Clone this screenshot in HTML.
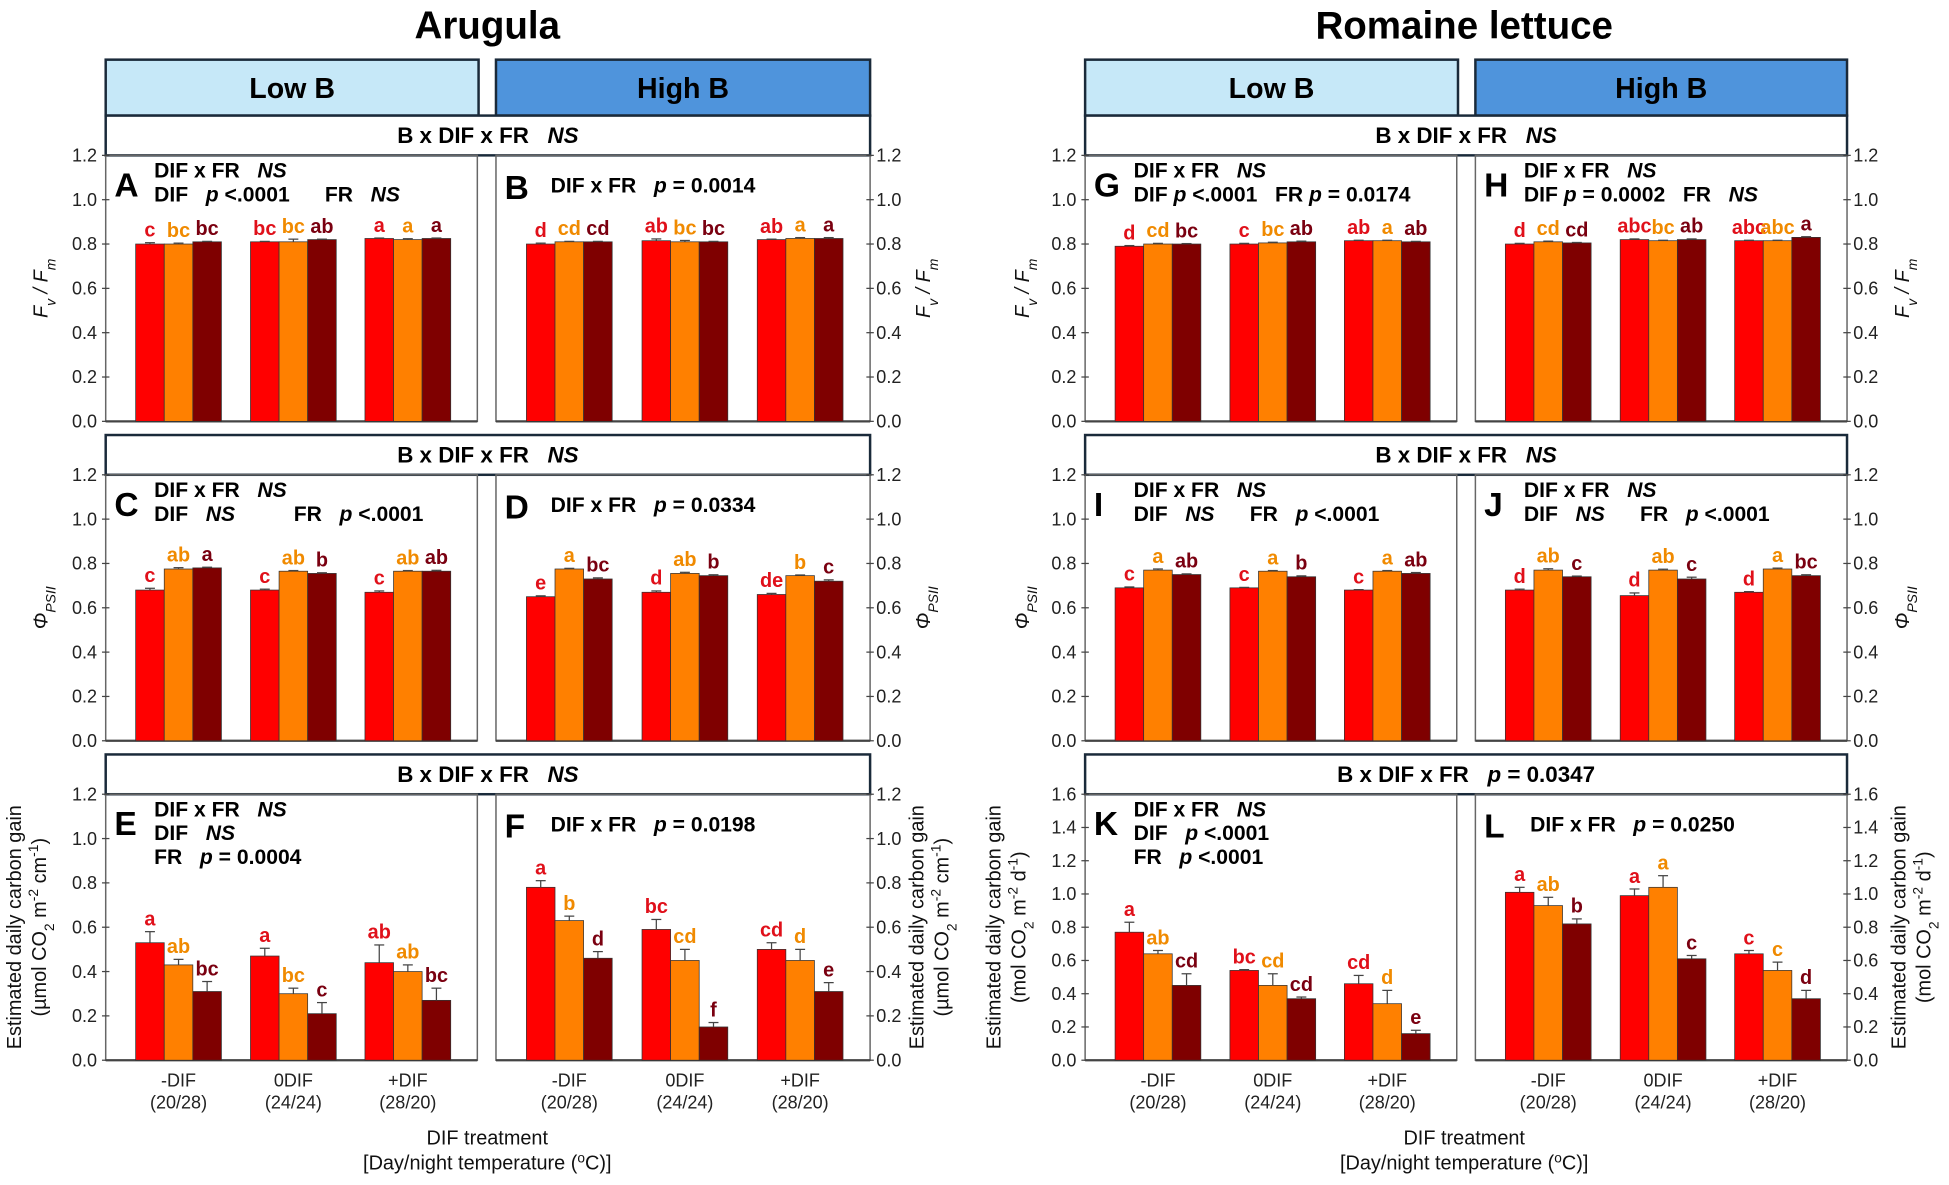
<!DOCTYPE html>
<html><head><meta charset="utf-8"><title>Arugula and romaine lettuce: Fv/Fm, ΦPSII and daily carbon gain</title>
<style>
html,body{margin:0;padding:0;background:#fff;}
svg{display:block;}
text{font-family:"Liberation Sans Narrow","Liberation Sans",sans-serif;white-space:pre;}
</style></head>
<body>
<svg id="fig" xmlns="http://www.w3.org/2000/svg" xml:space="preserve" width="1949" height="1185" viewBox="0 0 1568 953.4"></svg>
<script>
// ---- data (groups: -DIF, 0DIF, +DIF ; bars: red, orange, dark red) ----
const categories = ["-DIF", "0DIF", "+DIF"];
const categorySub = ["(20/28)", "(24/24)", "(28/20)"];
const ticks12 = ["0.0","0.2","0.4","0.6","0.8","1.0","1.2"];
const ticks16 = ["0.0","0.2","0.4","0.6","0.8","1.0","1.2","1.4","1.6"];

const valsA = [[0.80,0.80,0.81],[0.81,0.81,0.82],[0.825,0.82,0.825]];
const errA  = [[0.006,0.004,0.002],[0.002,0.012,0.002],[0.002,0.004,0.002]];
const letA  = [["c","bc","bc"],["bc","bc","ab"],["a","a","a"]];
const valsB = [[0.80,0.81,0.81],[0.815,0.81,0.81],[0.82,0.825,0.825]];
const errB  = [[0.004,0.002,0.002],[0.008,0.006,0.002],[0.002,0.004,0.004]];
const letB  = [["d","cd","cd"],["ab","bc","bc"],["ab","a","a"]];
const valsC = [[0.68,0.775,0.78],[0.68,0.765,0.755],[0.67,0.765,0.765]];
const errC  = [[0.008,0.006,0.003],[0.004,0.003,0.003],[0.006,0.003,0.004]];
const letC  = [["c","ab","a"],["c","ab","b"],["c","ab","ab"]];
const valsD = [[0.65,0.775,0.73],[0.67,0.755,0.745],[0.66,0.745,0.72]];
const errD  = [[0.004,0.003,0.005],[0.006,0.005,0.004],[0.005,0.003,0.006]];
const letD  = [["e","a","bc"],["d","ab","b"],["de","b","c"]];
const valsE = [[0.53,0.43,0.31],[0.47,0.30,0.21],[0.44,0.40,0.27]];
const errE  = [[0.05,0.025,0.045],[0.035,0.025,0.05],[0.08,0.03,0.055]];
const letE  = [["a","ab","bc"],["a","bc","c"],["ab","ab","bc"]];
const valsF = [[0.78,0.63,0.46],[0.59,0.45,0.15],[0.50,0.45,0.31]];
const errF  = [[0.03,0.02,0.03],[0.045,0.05,0.02],[0.03,0.05,0.04]];
const letF  = [["a","b","d"],["bc","cd","f"],["cd","d","e"]];
const valsG = [[0.79,0.80,0.80],[0.80,0.805,0.81],[0.815,0.815,0.81]];
const errG  = [[0.003,0.003,0.002],[0.003,0.003,0.003],[0.002,0.002,0.002]];
const letG  = [["d","cd","bc"],["c","bc","ab"],["ab","a","ab"]];
const valsH = [[0.80,0.81,0.805],[0.82,0.815,0.82],[0.815,0.815,0.83]];
const errH  = [[0.003,0.003,0.002],[0.003,0.002,0.003],[0.002,0.002,0.003]];
const letH  = [["d","cd","cd"],["abc","bc","ab"],["abc","abc","a"]];
const valsI = [[0.69,0.77,0.75],[0.69,0.765,0.74],[0.68,0.765,0.755]];
const errI  = [[0.004,0.005,0.003],[0.002,0.003,0.004],[0.002,0.003,0.004]];
const letI  = [["c","a","ab"],["c","a","b"],["c","a","ab"]];
const valsJ = [[0.68,0.77,0.74],[0.655,0.77,0.73],[0.67,0.775,0.745]];
const errJ  = [[0.004,0.006,0.003],[0.012,0.004,0.008],[0.003,0.004,0.004]];
const letJ  = [["d","ab","c"],["d","ab","c"],["d","a","bc"]];
const valsK = [[0.77,0.64,0.45],[0.54,0.45,0.37],[0.46,0.34,0.16]];
const errK  = [[0.06,0.02,0.07],[0.005,0.07,0.01],[0.05,0.08,0.02]];
const letK  = [["a","ab","cd"],["bc","cd","cd"],["cd","d","e"]];
const valsL = [[1.01,0.93,0.82],[0.99,1.04,0.61],[0.64,0.54,0.37]];
const errL  = [[0.03,0.05,0.03],[0.04,0.07,0.02],[0.02,0.05,0.05]];
const letL  = [["a","ab","b"],["a","a","c"],["c","c","d"]];

const NS = "http://www.w3.org/2000/svg";
const svg = document.getElementById("fig");
const barColors = ["#ff0000","#ff8000","#7f0000"];
const letColors = ["#e0101a","#f08a00","#7a0010"];

function el(tag, attrs, parent, txt){
  const e = document.createElementNS(NS, tag);
  for (const k in attrs) e.setAttribute(k, attrs[k]);
  if (txt !== undefined) e.textContent = txt;
  (parent || svg).appendChild(e);
  return e;
}
function rich(x, y, parts, size, anchor, name){
  const t = el("text", {x:x, y:y, "font-size":size, "font-weight":"bold", "text-anchor":anchor||"start", fill:"#000"});
  
  
  parts.forEach(p => {
    const s = el("tspan", {}, t, p[0]);
    if (p[1]) s.setAttribute("font-style", "italic");
  });
  return t;
}

// titles
let t1 = el("text", {x:392, y:31, "font-size":31, "font-weight":"bold", "text-anchor":"middle", "font-family":"Liberation Sans, sans-serif"}, svg, "Arugula");


let t2 = el("text", {x:1178, y:31, "font-size":31, "font-weight":"bold", "text-anchor":"middle", "font-family":"Liberation Sans, sans-serif"}, svg, "Romaine lettuce");



const cols = [[85,384],[399,700],[873,1172],[1187,1486]];
const rows = [[125,339],[382,596],[639,853]];

// B level header boxes
[[85,385,"Low B","#c6e8f8"],[399,700,"High B","#4f94dc"],[873,1173,"Low B","#c6e8f8"],[1187,1486,"High B","#4f94dc"]].forEach((b,i)=>{
  const r = el("rect", {x:b[0], y:48, width:b[1]-b[0], height:45, fill:b[3], stroke:"#1a2a3a", "stroke-width":2});
  
  
  const t = el("text", {x:(b[0]+b[1])/2, y:79, "font-size":23, "font-weight":"bold", "text-anchor":"middle"}, svg, b[2]);
  
  
});

// interaction boxes
const interTexts = [
  [[["B x DIF x FR   ",0],["NS",1]], [["B x DIF x FR   ",0],["NS",1]], [["B x DIF x FR   ",0],["NS",1]]],
  [[["B x DIF x FR   ",0],["NS",1]], [["B x DIF x FR   ",0],["NS",1]], [["B x DIF x FR   ",0],["p",1],[" = 0.0347",0]]]
];
[0,1].forEach(f=>{
  const x0 = cols[f*2][0], x1 = cols[f*2+1][1];
  rows.forEach((rw,ri)=>{
    const r = el("rect", {x:x0, y:rw[0]-32, width:x1-x0, height:32, fill:"#fff", stroke:"#1a2a3a", "stroke-width":2});
    
    
    rich((x0+x1)/2, rw[0]-10, interTexts[f][ri], 18, "middle", "interaction-label");
  });
});

const panels = [
  {id:"A",c:0,r:0,v:valsA,e:errA,l:letA,max:1.2,tk:ticks12},
  {id:"B",c:1,r:0,v:valsB,e:errB,l:letB,max:1.2,tk:ticks12},
  {id:"C",c:0,r:1,v:valsC,e:errC,l:letC,max:1.2,tk:ticks12},
  {id:"D",c:1,r:1,v:valsD,e:errD,l:letD,max:1.2,tk:ticks12},
  {id:"E",c:0,r:2,v:valsE,e:errE,l:letE,max:1.2,tk:ticks12},
  {id:"F",c:1,r:2,v:valsF,e:errF,l:letF,max:1.2,tk:ticks12},
  {id:"G",c:2,r:0,v:valsG,e:errG,l:letG,max:1.2,tk:ticks12},
  {id:"H",c:3,r:0,v:valsH,e:errH,l:letH,max:1.2,tk:ticks12},
  {id:"I",c:2,r:1,v:valsI,e:errI,l:letI,max:1.2,tk:ticks12},
  {id:"J",c:3,r:1,v:valsJ,e:errJ,l:letJ,max:1.2,tk:ticks12},
  {id:"K",c:2,r:2,v:valsK,e:errK,l:letK,max:1.6,tk:ticks16},
  {id:"L",c:3,r:2,v:valsL,e:errL,l:letL,max:1.6,tk:ticks16}
];
const notes = {
  A:[[["DIF x FR   ",0],["NS",1]],[["DIF   ",0],["p",1],[" <.0001      FR   ",0],["NS",1]]],
  B:[null,[["DIF x FR   ",0],["p",1],[" = 0.0014",0]]],
  C:[[["DIF x FR   ",0],["NS",1]],[["DIF   ",0],["NS",1],["          FR   ",0],["p",1],[" <.0001",0]]],
  D:[null,[["DIF x FR   ",0],["p",1],[" = 0.0334",0]]],
  E:[[["DIF x FR   ",0],["NS",1]],[["DIF   ",0],["NS",1]],[["FR   ",0],["p",1],[" = 0.0004",0]]],
  F:[null,[["DIF x FR   ",0],["p",1],[" = 0.0198",0]]],
  G:[[["DIF x FR   ",0],["NS",1]],[["DIF ",0],["p",1],[" <.0001   FR ",0],["p",1],[" = 0.0174",0]]],
  H:[[["DIF x FR   ",0],["NS",1]],[["DIF ",0],["p",1],[" = 0.0002   FR   ",0],["NS",1]]],
  I:[[["DIF x FR   ",0],["NS",1]],[["DIF   ",0],["NS",1],["      FR   ",0],["p",1],[" <.0001",0]]],
  J:[[["DIF x FR   ",0],["NS",1]],[["DIF   ",0],["NS",1],["      FR   ",0],["p",1],[" <.0001",0]]],
  K:[[["DIF x FR   ",0],["NS",1]],[["DIF   ",0],["p",1],[" <.0001",0]],[["FR   ",0],["p",1],[" <.0001",0]]],
  L:[null,[["DIF x FR   ",0],["p",1],[" = 0.0250",0]]]
};
const groupFrac = [0.196, 0.505, 0.813];
const barW = 23;

panels.forEach(p=>{
  const x0 = cols[p.c][0], x1 = cols[p.c][1];
  const yT = rows[p.r][0], yB = rows[p.r][1];
  const yS = v => yB - v/p.max*(yB-yT);
  const g = el("g", {});
  
  
  const fr = el("rect", {x:x0, y:yT, width:x1-x0, height:yB-yT, fill:"none", stroke:"#666", "stroke-width":1.2}, g);
  
  
  const ax = el("line", {x1:x0, x2:x1, y1:yB, y2:yB, stroke:"#444", "stroke-width":1.8}, g);
  
  
  const isLeft = (p.c % 2 === 0);
  p.tk.forEach((lab,i)=>{
    const v = parseFloat(lab), y = yS(v);
    const tickx = isLeft ? x0 : x1;
    el("line", {x1:tickx-3, x2:tickx+3, y1:y, y2:y, stroke:"#444", "stroke-width":1}, g);
    const t = el("text", isLeft ? {x:x0-7, y:y+5, "font-size":14.5, "text-anchor":"end", fill:"#222"} : {x:x1+5, y:y+5, "font-size":14.5, "text-anchor":"start", fill:"#222"}, g, lab);
    
    
  });
  // bars
  p.v.forEach((grp,gi)=>{
    const cx = x0 + groupFrac[gi]*(x1-x0);
    grp.forEach((v,bi)=>{
      const bx = cx - 1.5*barW + bi*barW;
      const y = yS(v);
      const r = el("rect", {x:bx, y:y, width:barW, height:yB-y, fill:barColors[bi], stroke:"#333", "stroke-width":0.6}, g);
      
      
      const ye = yS(v + p.e[gi][bi]);
      const bm = bx + barW/2;
      el("line", {x1:bm, x2:bm, y1:y, y2:ye, stroke:"#444", "stroke-width":1}, g);
      el("line", {x1:bm-4, x2:bm+4, y1:ye, y2:ye, stroke:"#444", "stroke-width":1}, g);
      const lt = el("text", {x:bm, y:ye-5, "font-size":16, "font-weight":"bold", "text-anchor":"middle", fill:letColors[bi]}, g, p.l[gi][bi]);
      
      
    });
    if (p.r === 2){
      const a = el("text", {x:cx, y:874, "font-size":14.5, "text-anchor":"middle", fill:"#222"}, svg, categories[gi]);
      
      
      const b = el("text", {x:cx, y:892, "font-size":14.5, "text-anchor":"middle", fill:"#222"}, svg, categorySub[gi]);
      
      
    }
  });
  // panel letter + notes
  const n = notes[p.id];
  const lx = x0 + 7;
  const letterY = n[0] === null ? yT + 35 : yT + 33;
  const L = el("text", {x:lx, y:letterY, "font-size":27, "font-weight":"bold", fill:"#000"}, svg, p.id);
  
  
  const tx = x0 + (n[0] === null ? 44 : 39);
  if (n[0] === null){
    rich(tx, yT + 30, n[1], 17, "start", "panel-statistics");
  } else {
    n.forEach((line,i)=> rich(tx, yT + 18 + i*19, line, 17, "start", "panel-statistics"));
  }
});

// y axis titles
function yTitle(x, yc, parts, size, name){
  const t = el("text", {x:0, y:0, "font-size":size, "text-anchor":"middle", fill:"#111", transform:`translate(${x},${yc}) rotate(-90)`, "font-family":"Liberation Sans, sans-serif"});
  
  
  parts.forEach(p=>{
    const s = el("tspan", {}, t, p[0]);
    if (p[1]==="i") s.setAttribute("font-style","italic");
    if (p[1]==="sub"){ s.setAttribute("baseline-shift","sub"); s.setAttribute("font-size", size*0.7); }
    if (p[1]==="isub"){ s.setAttribute("baseline-shift","sub"); s.setAttribute("font-size", size*0.7); s.setAttribute("font-style","italic"); }
    if (p[1]==="sup"){ s.setAttribute("baseline-shift","super"); s.setAttribute("font-size", size*0.7); }
  });
}
const fvfm = [["F","i"],["v","isub"],[" / ","i"],["F","i"],["m","isub"]];
const phi = [["Φ","i"],["PSII","isub"]];
const gainA = [["(µmol CO",0],["2","sub"],[" m",0],["-2","sup"],[" cm",0],["-1","sup"],[")",0]];
const gainR = [["(mol CO",0],["2","sub"],[" m",0],["-2","sup"],[" d",0],["-1","sup"],[")",0]];
[[38,748],[828,1536]].forEach(f=>{
  yTitle(f[0], 232, fvfm, 16, 'y-axis-title-fvfm');
  yTitle(f[1], 232, fvfm, 16, 'y-axis-title-fvfm');
  yTitle(f[0], 489, phi, 16, 'y-axis-title-phipsii');
  yTitle(f[1], 489, phi, 16, 'y-axis-title-phipsii');
});
yTitle(17, 746, [["Estimated daily carbon gain",0]], 16, 'y-axis-title-carbon-gain');
yTitle(37, 746, gainA, 16, 'y-axis-title-carbon-gain-unit');
yTitle(743, 746, [["Estimated daily carbon gain",0]], 16, 'y-axis-title-carbon-gain');
yTitle(763, 746, gainA, 16, 'y-axis-title-carbon-gain-unit');
yTitle(805, 746, [["Estimated daily carbon gain",0]], 16, 'y-axis-title-carbon-gain');
yTitle(825, 746, gainR, 16, 'y-axis-title-carbon-gain-unit');
yTitle(1533, 746, [["Estimated daily carbon gain",0]], 16, 'y-axis-title-carbon-gain');
yTitle(1553, 746, gainR, 16, 'y-axis-title-carbon-gain-unit');

// x axis titles
[392, 1178].forEach(cx=>{
  const a = el("text", {x:cx, y:921, "font-size":16, "text-anchor":"middle", fill:"#111"}, svg, "DIF treatment");
  
  
  const b = el("text", {x:cx, y:941, "font-size":16, "text-anchor":"middle", fill:"#111"});
  
  
  el("tspan", {}, b, "[Day/night temperature (");
  el("tspan", {"baseline-shift":"super","font-size":11}, b, "o");
  el("tspan", {}, b, "C)]");
});
</script>
</body></html>
